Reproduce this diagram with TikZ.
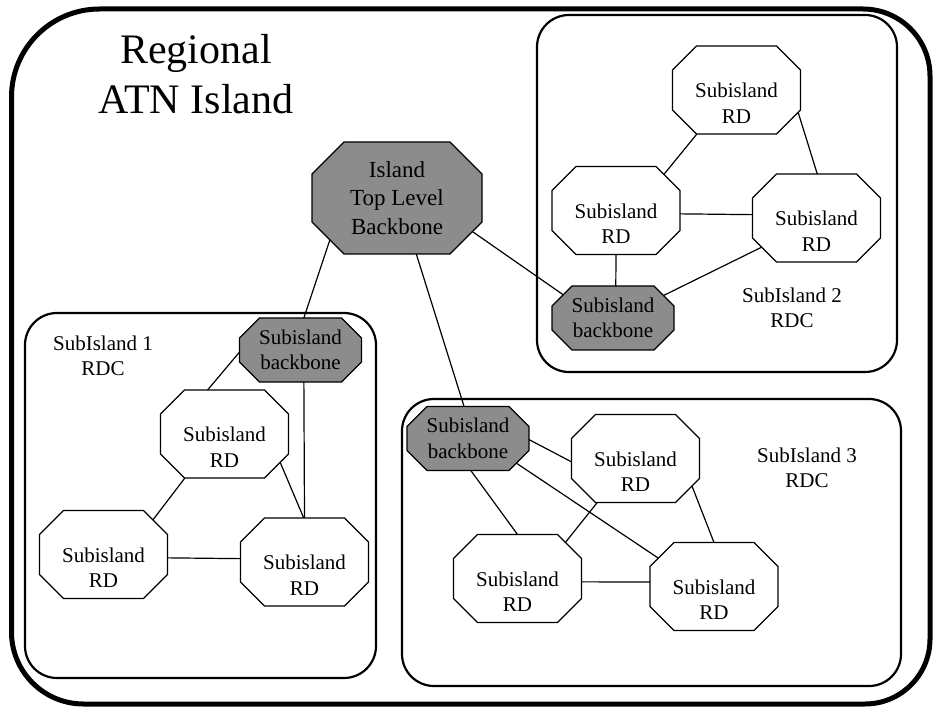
\documentclass[tikz,border=0pt]{standalone}
\usepackage{fontspec}
\setmainfont{Liberation Serif}
\definecolor{bbgray}{RGB}{140,140,140}
\makeatletter
\pgfkeys{/pgf/octo sep/.initial=20pt}
\pgfdeclareshape{octo}{%
  \inheritsavedanchors[from=rectangle]%
  \inheritanchor[from=rectangle]{center}%
  \inheritanchor[from=rectangle]{text}%
  \inheritanchor[from=rectangle]{base}%
  \inheritanchor[from=rectangle]{mid}%
  \inheritanchor[from=rectangle]{north}%
  \inheritanchor[from=rectangle]{south}%
  \inheritanchor[from=rectangle]{east}%
  \inheritanchor[from=rectangle]{west}%
  \savedmacro\octsep{\pgfmathsetlengthmacro\octsep{\pgfkeysvalueof{/pgf/octo sep}}}%
  \backgroundpath{%
    \southwest \edef\oct@xa{\the\pgf@x}\edef\oct@ya{\the\pgf@y}%
    \northeast \edef\oct@xb{\the\pgf@x}\edef\oct@yb{\the\pgf@y}%
    \pgf@x=\oct@xa\relax \advance\pgf@x by \octsep\relax \edef\oct@xaa{\the\pgf@x}%
    \pgf@x=\oct@xb\relax \advance\pgf@x by -\octsep\relax \edef\oct@xbb{\the\pgf@x}%
    \pgf@y=\oct@ya\relax \advance\pgf@y by \octsep\relax \edef\oct@yaa{\the\pgf@y}%
    \pgf@y=\oct@yb\relax \advance\pgf@y by -\octsep\relax \edef\oct@ybb{\the\pgf@y}%
    \pgfpathmoveto{\pgfqpoint{\oct@xaa}{\oct@ya}}%
    \pgfpathlineto{\pgfqpoint{\oct@xbb}{\oct@ya}}%
    \pgfpathlineto{\pgfqpoint{\oct@xb}{\oct@yaa}}%
    \pgfpathlineto{\pgfqpoint{\oct@xb}{\oct@ybb}}%
    \pgfpathlineto{\pgfqpoint{\oct@xbb}{\oct@yb}}%
    \pgfpathlineto{\pgfqpoint{\oct@xaa}{\oct@yb}}%
    \pgfpathlineto{\pgfqpoint{\oct@xa}{\oct@ybb}}%
    \pgfpathlineto{\pgfqpoint{\oct@xa}{\oct@yaa}}%
    \pgfpathclose
  }%
  \anchorborder{%
    \edef\oct@u{\the\pgf@x}\edef\oct@v{\the\pgf@y}%
    \southwest \pgf@xa=\pgf@x \pgf@ya=\pgf@y
    \northeast \advance\pgf@x by -\pgf@xa \advance\pgf@y by -\pgf@ya
    \pgf@xc=.5\pgf@x \pgf@yc=.5\pgf@y
    \advance\pgf@xa by \pgf@xc \advance\pgf@ya by \pgf@yc
    \edef\oct@a{\the\pgf@xc}\edef\oct@b{\the\pgf@yc}%
    \edef\oct@cx{\the\pgf@xa}\edef\oct@cy{\the\pgf@ya}%
    \pgfmathsetmacro\oct@s{max(abs(\oct@u)/\oct@a, abs(\oct@v)/\oct@b, (abs(\oct@u)+abs(\oct@v))/(\oct@a+\oct@b-\octsep))}%
    \pgfmathsetmacro\oct@px{\oct@u/\oct@s}%
    \pgfmathsetmacro\oct@py{\oct@v/\oct@s}%
    \pgf@x=\oct@px pt\relax \advance\pgf@x by \oct@cx\relax
    \pgf@y=\oct@py pt\relax \advance\pgf@y by \oct@cy\relax
  }%
}
\makeatother
\begin{document}
\begin{tikzpicture}[x=1pt,y=-1pt,
  oct/.style={shape=octo, draw, line width=1.2pt, inner sep=0pt, outer sep=0pt},
  lbl/.style={font=\fontsize{21}{25.5}\selectfont, align=center},
  rd/.style={oct, fill=white, minimum width=128pt, minimum height=88pt,
    /pgf/octo sep=24pt,
    label={[lbl, yshift=-13pt]center:Subisland\\RD}},
  bb/.style={oct, fill=bbgray, minimum width=122pt, minimum height=64pt,
    /pgf/octo sep=20pt,
    font=\fontsize{21}{25.5}\selectfont, align=center},
  box/.style={draw, line width=2.2pt, rounded corners=32pt},
  link/.style={line width=1.2pt}]
\useasboundingbox (0,0) rectangle (934,708);
\fill[white] (0,0) rectangle (934,708);
% outer frame
\draw[line width=5pt] (11.5,97) arc[start angle=180,end angle=270,radius=88]
  -- (863,9) arc[start angle=270,end angle=360,radius=67]
  -- (930,639) arc[start angle=0,end angle=90,radius=65]
  -- (83.5,704) arc[start angle=90,end angle=180,radius=72] -- cycle;
% sub-island boxes
\draw[box] (537,15) rectangle (897,372);
\draw[box] (25,313) rectangle (376,678);
\draw[box] (402,399) rectangle (901,686);
% title
\node[font=\fontsize{42}{50}\selectfont, align=center] (title) at (196,74) {Regional\\ATN Island};
% top level backbone
\node[oct, fill=bbgray, minimum width=170pt, minimum height=112pt,
  /pgf/octo sep=32pt,
  font=\fontsize{23}{28.5}\selectfont, align=center] (tb) at (397,198) {Island\\Top Level\\Backbone};
% subisland 2
\node[rd] (s2t) at (736.5,90) {};
\node[rd] (s2l) at (616,210.5) {};
\node[rd] (s2r) at (816.5,218) {};
\node[bb] (s2b) at (613,318) {Subisland\\backbone};
\node[lbl] (s2lab) at (792,308) {SubIsland 2\\RDC};
% subisland 1
\node[bb] (s1b) at (300.5,350) {Subisland\\backbone};
\node[rd] (s1m) at (224.5,434) {};
\node[rd] (s1l) at (103.5,554.5) {};
\node[rd] (s1r) at (304.5,562) {};
\node[lbl] (s1lab) at (103,356) {SubIsland 1\\RDC};
% subisland 3
\node[bb] (s3b) at (468,438.5) {Subisland\\backbone};
\node[rd] (s3t) at (635.5,458.5) {};
\node[rd] (s3l) at (517.5,578.5) {};
\node[rd] (s3r) at (714,586.5) {};
\node[lbl] (s3lab) at (807,468) {SubIsland 3\\RDC};
% links
\draw[link] (tb.-24) -- (s2b.155);
\draw[link] (tb.-148) -- (s1b.84);
\draw[link] (tb.-71) -- (s3b.97);
\draw[link] (s2t.-132) -- (s2l.37);
\draw[link] (s2t.-20) -- (s2r.89);
\draw[link] (s2l.-3) -- (s2r.177);
\draw[link] (s2l.-90) -- (s2b.85);
\draw[link] (s2r.-152) -- (s2b.24);
\draw[link] (s1b.-178) -- (s1m.111);
\draw[link] (s1b.-84) -- (s1r.90);
\draw[link] (s1m.-27) -- (s1r.91);
\draw[link] (s1m.-132) -- (s1l.35);
\draw[link] (s1l.-3) -- (s1r.177);
\draw[link] (s3b.-1) -- (s3t.183);
\draw[link] (s3b.-27) -- (s3r.153);
\draw[link] (s3b.-85) -- (s3l.90);
\draw[link] (s3t.-131) -- (s3l.37);
\draw[link] (s3t.-26) -- (s3r.90);
\draw[link] (s3l.-3) -- (s3r.176);
\end{tikzpicture}
\end{document}
